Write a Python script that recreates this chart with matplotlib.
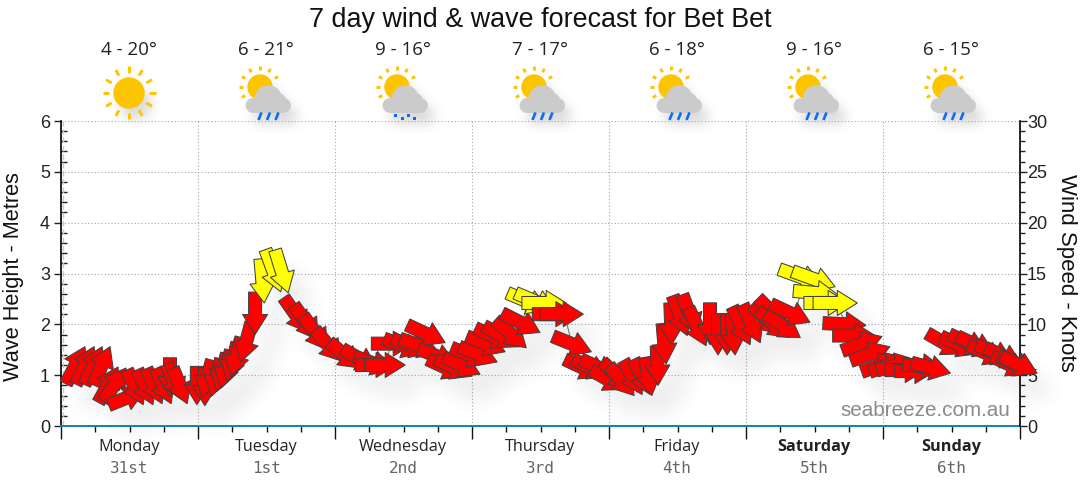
import numpy as np
import matplotlib
matplotlib.use('Agg')
import matplotlib.pyplot as plt
from matplotlib.collections import PathCollection, PatchCollection
from matplotlib.patches import Circle, Rectangle
from matplotlib.path import Path
from matplotlib.transforms import IdentityTransform

# arrow tips: hours since Monday 00:00, wind in knots, heading in degrees (0 = east, 90 = north)
hours = [4.2, 5.8, 7.2, 8.6, 10.0, 11.4, 14.7, 14.4, 16.1, 17.7, 19.3, 19.1, 21.2, 22.1, 23.8, 25.2,
         24.7, 26.3, 27.3, 28.0, 29.1, 29.8, 31.5, 34.0, 35.6, 38.5, 39.8,
         43.3, 45.0, 46.6, 49.1, 52.4, 55.4, 58.0, 58.7, 60.3,
         61.7, 63.4, 64.8, 66.2, 67.3, 69.2, 70.6, 72.0, 73.4, 75.0, 76.4, 77.8, 79.2, 80.4, 81.5, 83.9,
         85.3, 86.7, 88.5, 90.2, 91.5, 92.9, 94.6, 96.0, 97.4, 98.8, 99.7, 100.4, 101.8, 103.2, 103.5,
         104.6, 106.0, 107.0, 109.7, 111.4, 113.0, 113.7, 115.1, 116.7, 118.1, 120.7, 122.5, 126.3, 127.4,
         127.7, 129.5, 131.2, 133.3, 135.6, 136.1, 137.9, 139.5, 141.0, 142.6, 143.8, 145.2,
         147.0, 148.4, 149.8, 151.4, 153.1, 154.5, 155.8,
         158.0, 160.7, 162.2, 163.6, 165.4, 166.8, 168.4, 169.4, 170.5, 171.0]
knots = [7.8, 7.8, 7.8, 7.8, 5.8, 5.7, 3.5, 2.1, 2.1, 2.2, 2.2, 2.9, 2.6, 2.2, 2.1, 2.0,
         2.8, 2.9, 3.4, 3.7, 4.4, 4.9, 6.3, 9.0, 12.1, 13.2, 13.1,
         9.2, 8.5, 7.5, 6.4, 5.7, 5.6, 5.5, 6.0, 6.0,
         8.1, 7.2, 7.2, 7.2, 8.2, 6.1, 4.9, 4.9, 5.1, 6.2, 6.3, 7.3, 7.9, 7.8, 7.7, 9.2,
         11.4, 11.4, 12.1, 11.0, 11.0, 7.3, 4.9, 4.9, 4.9, 3.6, 3.6, 3.0, 3.1, 3.1, 3.0,
         4.0, 6.1, 8.0, 8.9, 9.0, 7.9, 8.0, 7.0, 7.0, 7.0, 8.0, 8.2, 9.0, 9.6,
         8.7, 8.7, 10.2, 13.9, 13.7, 12.9, 12.1, 12.1, 9.9, 8.9, 8.8, 7.8,
         6.7, 6.7, 6.5, 5.5, 5.4, 5.7, 5.2,
         7.1, 7.1, 7.3, 7.1, 6.3, 6.3, 6.0, 5.2, 5.2, 5.2]
heading = [63, 64, 65, 66, 61, 55, 22, -65, -66, -66, -66, -90, -66, -68, -90, -90,
           -105, -105, -105, -105, -105, -105, -105, -90, -85, -70, -73,
           -55, -55, -55, -50, -40, -30, -20, 0, 0,
           0, -20, -20, -20, -25, -22, -25, -25, -25, -22, -22, -22, -25, -30, -42, -27,
           -23, -23, 0, 0, 0, -22, -25, -25, -25, -30, -45, -50, -61, -65, -80,
           -88, -85, -88, -70, -70, -65, -90, -90, -90, -85, -65, -65, -45, -45,
           -40, -34, -25, -20, -20, -5, 0, 0, -3, 0, 20, 20,
           20, 20, 15, 0, 0, -5, -15,
           -30, -25, -25, -25, -25, -25, -25, -25, -25, -25]

# short callout lines: (hour, hour, knots, knots)
callouts = [(57.1, 57.6, 6.8, 7.5), (81.1, 81.5, 10.8, 11.7), (88.7, 89.2, 9.9, 8.7),
            (128.8, 129.5, 11.6, 12.9), (136.5, 137.2, 11.2, 10.5)]

days = ['Monday', 'Tuesday', 'Wednesday', 'Thursday', 'Friday', 'Saturday', 'Sunday']
dates = ['31st', '1st', '2nd', '3rd', '4th', '5th', '6th']
temps = ['4 - 20°', '6 - 21°', '9 - 16°', '7 - 17°', '6 - 18°', '9 - 16°', '6 - 15°']
icons = ['sun', 'rain', 'showers', 'rain', 'rain', 'rain', 'rain']
weekend = ['Saturday', 'Sunday']
now_hour = 0.4
yellow_from = 11.2

W, H = 1080, 490
SANS = 'Liberation Sans'
UI = 'Open Sans'


def blur(a, r):
  k = np.ones(2 * r + 1) / (2 * r + 1)
  for _ in range(3):
    a = np.apply_along_axis(np.convolve, 0, a, k, mode='same')
    a = np.apply_along_axis(np.convolve, 1, a, k, mode='same')
  return a


def make_shadow(dx, dy, r, strength, grey=0.25):
  def flt(img, dpi):
    pad = 3 * r + max(abs(dx), abs(dy)) + 2
    a = np.pad(img[:, :, 3], pad)
    a = blur(a, r)
    a = np.roll(np.roll(a, dx, axis=1), dy, axis=0)
    out = np.zeros(a.shape + (4,))
    out[:, :, :3] = grey
    out[:, :, 3] = np.clip(a * strength, 0, 1)
    return out, -pad, -pad
  return flt


def arrow_path(angle, wind):
  length = 37 + 0.6 * wind
  hl, hw, sw = 20, 12.5, 6.5
  pts = np.array([(0, 0), (-hl, hw), (-hl, sw), (-length, sw), (-length, -sw),
                  (-hl, -sw), (-hl, -hw), (0, 0)], dtype=float)
  t = np.radians(angle)
  rot = np.array([[np.cos(t), -np.sin(t)], [np.sin(t), np.cos(t)]])
  return Path(pts @ rot.T, closed=True)


def draw_icon(ax, cx, kind):
  shadow = []
  sun_col = '#fdc500'
  if kind == 'sun':
    sx, sy, r, r0, r1 = cx, 93, 15.7, 20, 26.5
    angles = range(0, 360, 30)
  else:
    sx, sy, r, r0, r1 = cx - 6, 87, 12.7, 17, 21
    angles = range(30, 240, 30)
  for a in angles:
    t = np.radians(a)
    ax.plot([sx + r0 * np.cos(t), sx + r1 * np.cos(t)], [sy - r0 * np.sin(t), sy - r1 * np.sin(t)],
            color=sun_col, lw=2.1, solid_capstyle='butt', zorder=2)
  ax.add_patch(Circle((sx, sy), r, fc=sun_col, ec='none', zorder=3))
  shadow.append(Circle((sx, sy), r))
  if kind != 'sun':
    cloud = [Circle((sx + 8.3, sy + 11.7), 13.5), Circle((sx - 7, sy + 18.5), 7.4),
             Circle((sx + 23.5, sy + 18.5), 7.4), Circle((sx + 17, sy + 15), 9.5),
             Rectangle((sx - 7, sy + 14), 30.5, 11.9)]
    for c in cloud:
      shadow.append(type(c)(*((c.center, c.radius) if isinstance(c, Circle) else (c.get_xy(), c.get_width(), c.get_height()))))
      c.set(fc='#cbcbcb', ec='none', zorder=4)
      ax.add_patch(c)
  if kind == 'rain':
    for off in (-6, 2.5, 11):
      ax.plot([cx + off + 1.5, cx + off - 1.5], [112.5, 120], color='#0a6cff', lw=1.9,
              solid_capstyle='butt', zorder=4)
  if kind == 'showers':
    for off, y in zip((-8, -1, 5, 11), (115, 118, 115, 118)):
      ax.add_patch(Rectangle((cx + off - 1.5, y - 1.5), 3, 3, fc='#0a6cff', ec='none', zorder=4))
  pc = PatchCollection(shadow, facecolor='k', edgecolor='none', zorder=1)
  pc.set_agg_filter(make_shadow(7, 11, 5, 0.2, grey=0.3))
  ax.add_collection(pc, autolim=False)


fig = plt.figure(figsize=(W / 100, H / 100), dpi=100, facecolor='white')

# pixel overlay for the weather icons
ov = fig.add_axes([0, 0, 1, 1], zorder=0)
ov.set_xlim(0, W)
ov.set_ylim(H, 0)
ov.axis('off')
for i, kind in enumerate(icons):
  draw_icon(ov, 129 + 137 * i, kind)

ax = fig.add_axes([61 / W, (H - 426) / H, (1020 - 61) / W, (426 - 121) / H], zorder=1)
ax.patch.set_alpha(0)
ax.set_xlim(0, 168)
ax.set_ylim(0, 6)
ax.set_yticks(np.arange(0, 7))
ax.set_yticks(np.arange(0, 6.01, 0.2), minor=True)
ax.set_xticks(np.arange(0, 169, 24))
ax.set_xticks(np.arange(0, 169, 6), minor=True)
ax.set_xticklabels([])
ax.grid(True, which='major', color='#a6a6a6', linestyle=(0, (1, 2)), linewidth=0.8)
ax.set_axisbelow(True)
ax.tick_params(axis='y', which='major', direction='out', length=5, width=1, labelsize=13, colors='#222',
               pad=3, labelfontfamily=SANS)
ax.tick_params(axis='y', which='minor', direction='in', length=4, width=1, color='#222')
ax.tick_params(axis='x', which='major', direction='out', length=9, width=1, color='#111')
ax.tick_params(axis='x', which='minor', direction='out', length=4, width=1, color='#111')
ax.spines['top'].set_visible(False)
ax.spines['left'].set_linewidth(1.2)
ax.spines['right'].set_visible(False)
ax.spines['bottom'].set_color('#0a84b4')
ax.spines['bottom'].set_linewidth(1.4)
ax.axvline(now_hour, color='#f4b4ba', linestyle=(0, (4, 2)), linewidth=1)

wind = ax.twinx()
wind.patch.set_alpha(0)
wind.set_ylim(0, 30)
wind.set_yticks(np.arange(0, 31, 5))
wind.set_yticks(np.arange(0, 31, 1), minor=True)
wind.tick_params(axis='y', which='major', direction='out', length=5, width=1, labelsize=13, colors='#222',
                 pad=0, labelfontfamily=SANS)
wind.tick_params(axis='y', which='minor', direction='out', length=3.5, width=1, color='#222')
for name in ('top', 'left', 'bottom'):
  wind.spines[name].set_visible(False)
wind.spines['right'].set_linewidth(1.2)

paths = [arrow_path(a, k) for a, k in zip(heading, knots)]
tips = np.column_stack([hours, knots])
colors = ['#ffff00' if k >= yellow_from else '#ff0000' for k in knots]

soft = PathCollection(paths, offsets=tips, offset_transform=wind.transData, transform=IdentityTransform(),
                      facecolors='k', edgecolors='none', zorder=2, clip_on=False)
soft.set_agg_filter(make_shadow(9, 11, 6, 0.3))
wind.add_collection(soft, autolim=False)

for h0, h1, k0, k1 in callouts:
  wind.plot([h0, h1], [k0, k1], color='#777777', lw=0.8, zorder=2.5)

arrows = PathCollection(paths, offsets=tips, offset_transform=wind.transData, transform=IdentityTransform(),
                        facecolors=colors, edgecolors='#404040', linewidths=0.75, zorder=3, clip_on=False)
wind.add_collection(arrows, autolim=False)

# text
fig.text(540 / W, 1 - 20 / H, '7 day wind & wave forecast for Bet Bet', ha='center', va='center',
         fontsize=19.4, family=SANS, color='#111')
fig.text(14 / W, 1 - 277 / H, 'Wave Height - Metres', rotation=90, ha='center', va='center',
         fontsize=15.7, family=SANS, color='#111')
fig.text(1067 / W, 1 - 273 / H, 'Wind Speed - Knots', rotation=-90, ha='center', va='center',
         fontsize=16, family=SANS, color='#111')
fig.text(1010 / W, 1 - 411 / H, 'seabreeze.com.au', ha='right', va='center', fontsize=14.9,
         family=SANS, color='#8a8a8a')

for i in range(7):
  px = 129 + 137 * i
  fig.text(px / W, 1 - 50 / H, temps[i], ha='center', va='center', fontsize=13.5, family=UI, color='#222')
  weight = 'bold' if days[i] in weekend else 'normal'
  fig.text(px / W, 1 - 447 / H, days[i], ha='center', va='center', fontsize=11.7, family=UI,
           color='#222', fontweight=weight)
  fig.text(px / W, 1 - 468 / H, dates[i], ha='center', va='center', fontsize=11.5, family='DejaVu Sans Mono',
           color='#666666')

fig.savefig('out.png', dpi=100)
